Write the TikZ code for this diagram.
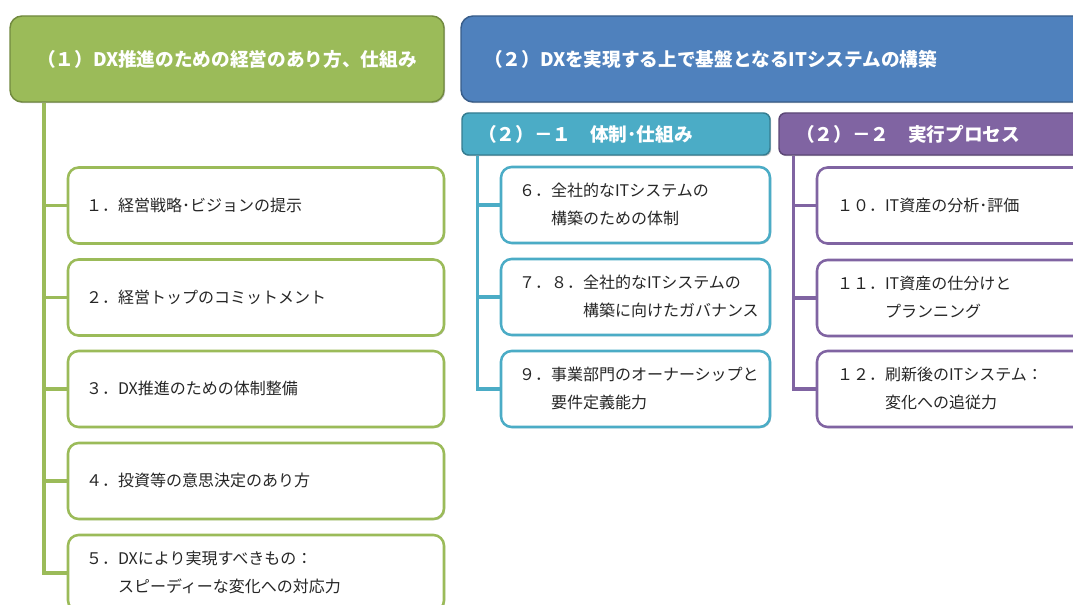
\documentclass[tikz,border=0pt]{standalone}
\usepackage{fontspec}
\setmainfont{Noto Sans CJK JP}
\usetikzlibrary{shadows}
\definecolor{gfill}{HTML}{9BBB59}
\definecolor{gdark}{HTML}{71893F}
\definecolor{bfill}{HTML}{4F81BD}
\definecolor{bdark}{HTML}{385D8A}
\definecolor{tfill}{HTML}{4BACC6}
\definecolor{tdark}{HTML}{357D91}
\definecolor{pfill}{HTML}{8064A2}
\definecolor{pdark}{HTML}{5C4776}
\newcommand{\numitem}[2]{\begin{tabular}{@{}l@{}l@{}}#1&#2\end{tabular}}
\begin{document}
\begin{tikzpicture}[x=0.75pt,y=-0.75pt,
  shade/.style={drop shadow={shadow xshift=0.9pt,shadow yshift=-0.9pt,opacity=0.22,fill=black}},
  hdr/.style={shade,rounded corners=9pt,line width=1.1pt,text=white,
    font=\fontsize{14}{17}\selectfont\bfseries,minimum height=86*0.75pt,inner ysep=0pt},
  subhdr/.style={shade,rounded corners=5pt,line width=1.1pt,text=white,
    font=\fontsize{14}{17}\selectfont\bfseries,minimum height=42*0.75pt,inner ysep=0pt,align=left},
  itembox/.style={shade,fill=white,rounded corners=8pt,line width=1.9pt,
    minimum height=76*0.75pt,inner ysep=0pt,align=left,
    font=\fontsize{12}{21}\selectfont,text=black!85},
  gbox/.style={itembox,draw=gfill,inner xsep=18*0.75pt,text width=340*0.75pt},
  tbox/.style={itembox,draw=tfill,inner xsep=18*0.75pt,text width=233*0.75pt},
  pbox/.style={itembox,draw=pfill,inner xsep=20*0.75pt,text width=240*0.75pt},
  gline/.style={draw=gfill,line width=2.4pt},
  tline/.style={draw=tfill,line width=2.4pt},
  pline/.style={draw=pfill,line width=2.4pt}]
\useasboundingbox (0,0) rectangle (1073,605);
\clip (0,0) rectangle (1073,605);

% headers
\node[hdr,fill=gfill,draw=gdark,minimum width=434*0.75pt] (h1) at (227,59)
  {（１）DX推進のための経営のあり方、仕組み};
\node[hdr,fill=bfill,draw=bdark,align=left,inner xsep=23*0.75pt,text width=593*0.75pt] (h2) at (780.5,59)
  {（２）DXを実現する上で基盤となるITシステムの構築};
\node[subhdr,fill=tfill,draw=tdark,inner xsep=16*0.75pt,text width=276*0.75pt] (h21) at (616,134)
  {（２）－１　体制･仕組み};
\node[subhdr,fill=pfill,draw=pdark,inner xsep=17*0.75pt,text width=287*0.75pt] (h22) at (939.5,134)
  {（２）－２　実行プロセス};

% green column
\node[gbox] (g1) at (256,205.5) {\numitem{１．}{経営戦略･ビジョンの提示}};
\node[gbox] (g2) at (256,297.5) {\numitem{２．}{経営トップのコミットメント}};
\node[gbox] (g3) at (256,389) {\numitem{３．}{DX推進のための体制整備}};
\node[gbox] (g4) at (256,481) {\numitem{４．}{投資等の意思決定のあり方}};
\node[gbox] (g5) at (256,573) {\numitem{５．}{DXにより実現すべきもの：\\&スピーディーな変化への対応力}};

% teal column
\node[tbox] (t1) at (635.5,205) {\numitem{６．}{全社的なITシステムの\\&構築のための体制}};
\node[tbox] (t2) at (635.5,297) {\numitem{７．８．}{全社的なITシステムの\\&構築に向けたガバナンス}};
\node[tbox] (t3) at (635.5,389) {\numitem{９．}{事業部門のオーナーシップと\\&要件定義能力}};

% purple column
\node[pbox] (p1) at (957,205.5) {\numitem{１０．}{IT資産の分析･評価}};
\node[pbox] (p2) at (957,298) {\numitem{１１．}{IT資産の仕分けと\\&プランニング}};
\node[pbox] (p3) at (957,389) {\numitem{１２．}{刷新後のITシステム：\\&変化への追従力}};

% connectors
\coordinate (gx) at (44,0);
\coordinate (tx) at (477.5,0);
\coordinate (px) at (793.5,0);
\foreach \b in {g1,g2,g3,g4,g5} \draw[gline] (h1.south -| gx) |- (\b.west);
\foreach \b in {t1,t2,t3} \draw[tline] (h21.south -| tx) |- (\b.west);
\foreach \b in {p1,p2,p3} \draw[pline] (h22.south -| px) |- (\b.west);
\end{tikzpicture}
\end{document}
